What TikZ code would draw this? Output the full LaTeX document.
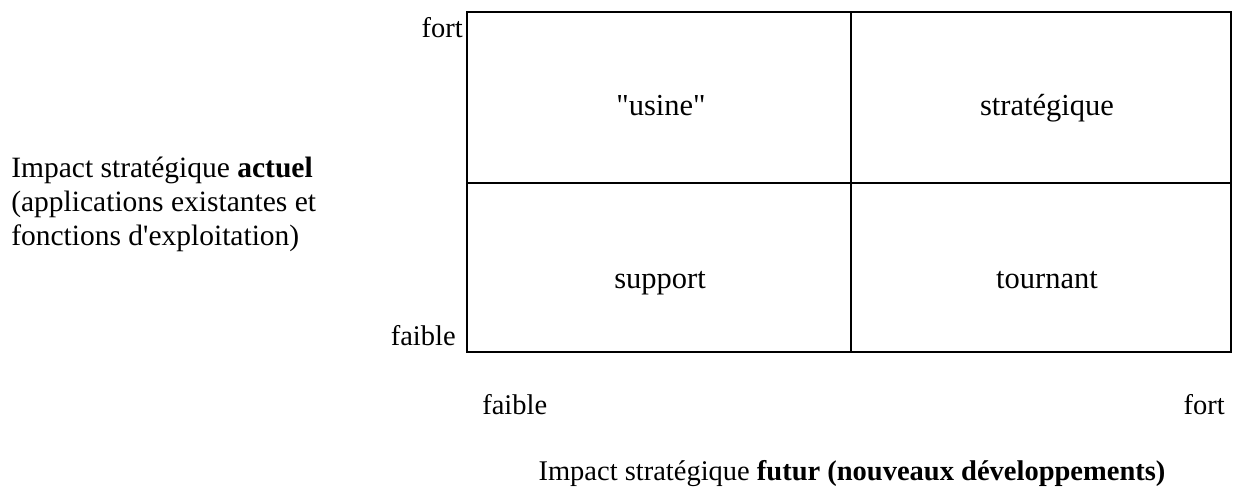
\documentclass[tikz,border=0pt]{standalone}
\usepackage{fontspec}
\setmainfont{Liberation Serif}
\usetikzlibrary{positioning}

\begin{document}
\begin{tikzpicture}[x=1pt,y=-1pt,semithick]
\tikzstyle{every node}=[inner sep=0pt,text=black]
\tikzstyle{axe}=[font=\fontsize{28.5}{34}\selectfont]
\tikzstyle{case}=[font=\fontsize{30.5}{36}\selectfont]
\tikzset{trait/.style={line width=1.6pt}}

        \useasboundingbox (0,0) rectangle (1233,489);

        % la grille
        \coordinate (no) at (467,12);
        \coordinate (se) at (1231,352);
        \coordinate (centre) at (851,183);

        \draw[trait] (no) rectangle (se);
        \draw[trait] (no -| centre) -- (se -| centre);
        \draw[trait] (no |- centre) -- (se |- centre);

        % les cases
        \node[case, anchor=base]           (usine)     at (661,116)  {\textquotedbl usine\textquotedbl};
        \node[case, anchor=base]           (strat)     at (1047,116) {stratégique};
        \node[case, anchor=base]           (support)   at (660,288)  {support};
        \node[case, anchor=base]           (tournant)  at (1047,288) {tournant};

        % axe vertical
        \node[axe, anchor=base east]       (fortv)     at (463,38)   {fort};
        \node[axe, anchor=base east]       (faiblev)   at (456,345)  {faible};
        \node[axe, anchor=north west, align=left, font=\fontsize{29.5}{34}\selectfont]
                                           (actuel)    at (11,157)
              {Impact stratégique \textbf{actuel}\\(applications existantes et\\fonctions d\textquotesingle exploitation)};

        % axe horizontal
        \node[axe, anchor=base west]       (faibleh)   at (482,414)  {faible};
        \node[axe, anchor=base east]       (forth)     at (1225,414) {fort};
        \node[axe, anchor=base]            (futur)     at (852,480)
              {Impact stratégique \textbf{futur (nouveaux développements)}};

\end{tikzpicture}
\end{document}
